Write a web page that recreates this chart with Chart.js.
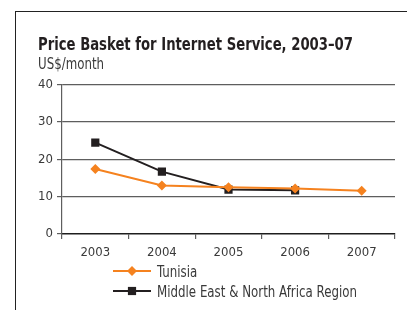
<!DOCTYPE html>
<html>
<head>
<meta charset="utf-8">
<script src="https://cdn.jsdelivr.net/npm/chart.js@4/dist/chart.umd.min.js"></script>
<style>
  html, body { margin: 0; padding: 0; background: #fff; }
  #wrap { position: relative; width: 407px; height: 310px; overflow: hidden; }
  #frame { position: absolute; left: 15px; top: 11px; width: 500px; height: 400px;
           border-left: 1px solid #222; border-top: 1px solid #222; }
  canvas { position: absolute; left: 0; top: 0; }
</style>
</head>
<body>
<div id="wrap">
  <div id="frame"></div>
  <canvas id="chart" width="407" height="310"></canvas>
</div>
<script>
// data
const years = ['2003', '2004', '2005', '2006', '2007'];
const tunisia = [17.4, 13.0, 12.5, 12.2, 11.6];
const mena = [24.5, 16.7, 11.9, 11.7, null];
const yTicks = [0, 10, 20, 30, 40];

const titleText = 'Price Basket for Internet Service, 2003–07';
const unitText = 'US$/month';

const FONT = '"Liberation Sans Narrow", "DejaVu Sans Condensed", "Arial Narrow", sans-serif';
const ORANGE = '#f5821f';
const BLACK = '#231f20';
const GRID = '#5e5e5e';
const AXIS = '#1e1e1e';
const TEXT = '#3a3a3a';

// the original uses a condensed face, so squeeze the text sideways to its width
function narrowText(ctx, text, x, y, font, color, scale) {
    ctx.save();
    ctx.font = font;
    ctx.fillStyle = color;
    ctx.textBaseline = 'alphabetic';
    ctx.textAlign = 'left';
    ctx.translate(x, y);
    ctx.scale(scale, 1);
    ctx.fillText(text, 0, 0);
    ctx.restore();
}

function fitScale(ctx, text, font, width) {
    ctx.save();
    ctx.font = font;
    let w = ctx.measureText(text).width;
    ctx.restore();
    return Math.min(1, width / w);
}

const headings = {
    id: 'headings',
    afterDraw(chart) {
        const ctx = chart.ctx;
        let tf = 'bold 18px ' + FONT;
        narrowText(ctx, titleText, 38, 50, tf, '#231f20', fitScale(ctx, titleText, tf, 315));
        let sf = '15px ' + FONT;
        narrowText(ctx, unitText, 38, 69, sf, TEXT, fitScale(ctx, unitText, sf, 66));
    }
};

// legend below the axis: short line with the marker in the middle
const lineLegend = {
    id: 'lineLegend',
    afterDraw(chart) {
        const ctx = chart.ctx;
        const area = chart.chartArea;
        const lf = '15px ' + FONT;
        const longest = chart.data.datasets[1].label;
        const s = fitScale(ctx, longest, lf, 200);
        chart.data.datasets.forEach(function (ds, i) {
            let y = area.bottom + 37 + i * 20;
            let x0 = area.left + 51;
            let x1 = area.left + 89;
            ctx.save();
            ctx.strokeStyle = ds.borderColor;
            ctx.lineWidth = 2;
            ctx.beginPath();
            ctx.moveTo(x0, y);
            ctx.lineTo(x1, y);
            ctx.stroke();
            ctx.fillStyle = ds.pointBackgroundColor;
            Chart.helpers.drawPoint(ctx, {
                pointStyle: ds.pointStyle,
                radius: ds.pointRadius,
                rotation: 0,
                borderWidth: 0
            }, (x0 + x1) / 2, y);
            ctx.restore();
            narrowText(ctx, ds.label, area.left + 95, y + 5.5, lf, TEXT, s);
        });
    }
};

new Chart(document.getElementById('chart'), {
    type: 'line',
    data: {
        labels: years,
        datasets: [{
            label: 'Tunisia',
            data: tunisia,
            borderColor: ORANGE,
            backgroundColor: ORANGE,
            pointBackgroundColor: ORANGE,
            pointBorderWidth: 0,
            pointStyle: 'rectRot',
            pointRadius: 5,
            borderWidth: 2
        }, {
            label: 'Middle East & North Africa Region',
            data: mena,
            borderColor: BLACK,
            backgroundColor: BLACK,
            pointBackgroundColor: BLACK,
            pointBorderWidth: 0,
            pointStyle: 'rect',
            pointRadius: 5.8,
            borderWidth: 2
        }]
    },
    options: {
        responsive: false,
        animation: false,
        layout: { padding: { left: 37, right: 12, top: 84.7, bottom: 0 } },
        plugins: {
            legend: { display: false },
            tooltip: { enabled: false },
            title: { display: false }
        },
        scales: {
            x: {
                offset: true,
                grid: {
                    offset: true,
                    color: ctx => ctx.index === years.length ? GRID : 'transparent',
                    tickColor: GRID,
                    tickLength: 5,
                    lineWidth: 1.2
                },
                border: { color: AXIS, width: 1.4 },
                ticks: { color: TEXT, font: { family: FONT, size: 13 }, padding: 6 },
                afterFit(scale) { scale.height = 76; }
            },
            y: {
                min: 0,
                max: 40,
                afterBuildTicks(scale) { scale.ticks = yTicks.map(v => ({ value: v })); },
                grid: {
                    color: ctx => ctx.tick && ctx.tick.value === 0 ? 'transparent' : GRID,
                    tickColor: GRID,
                    tickLength: 5,
                    lineWidth: 1.2
                },
                border: { color: GRID, width: 1.2 },
                ticks: { color: TEXT, font: { family: FONT, size: 13 }, padding: 4 },
                afterFit(scale) { scale.width = 25; }
            }
        }
    },
    plugins: [headings, lineLegend]
});
</script>
</body>
</html>
